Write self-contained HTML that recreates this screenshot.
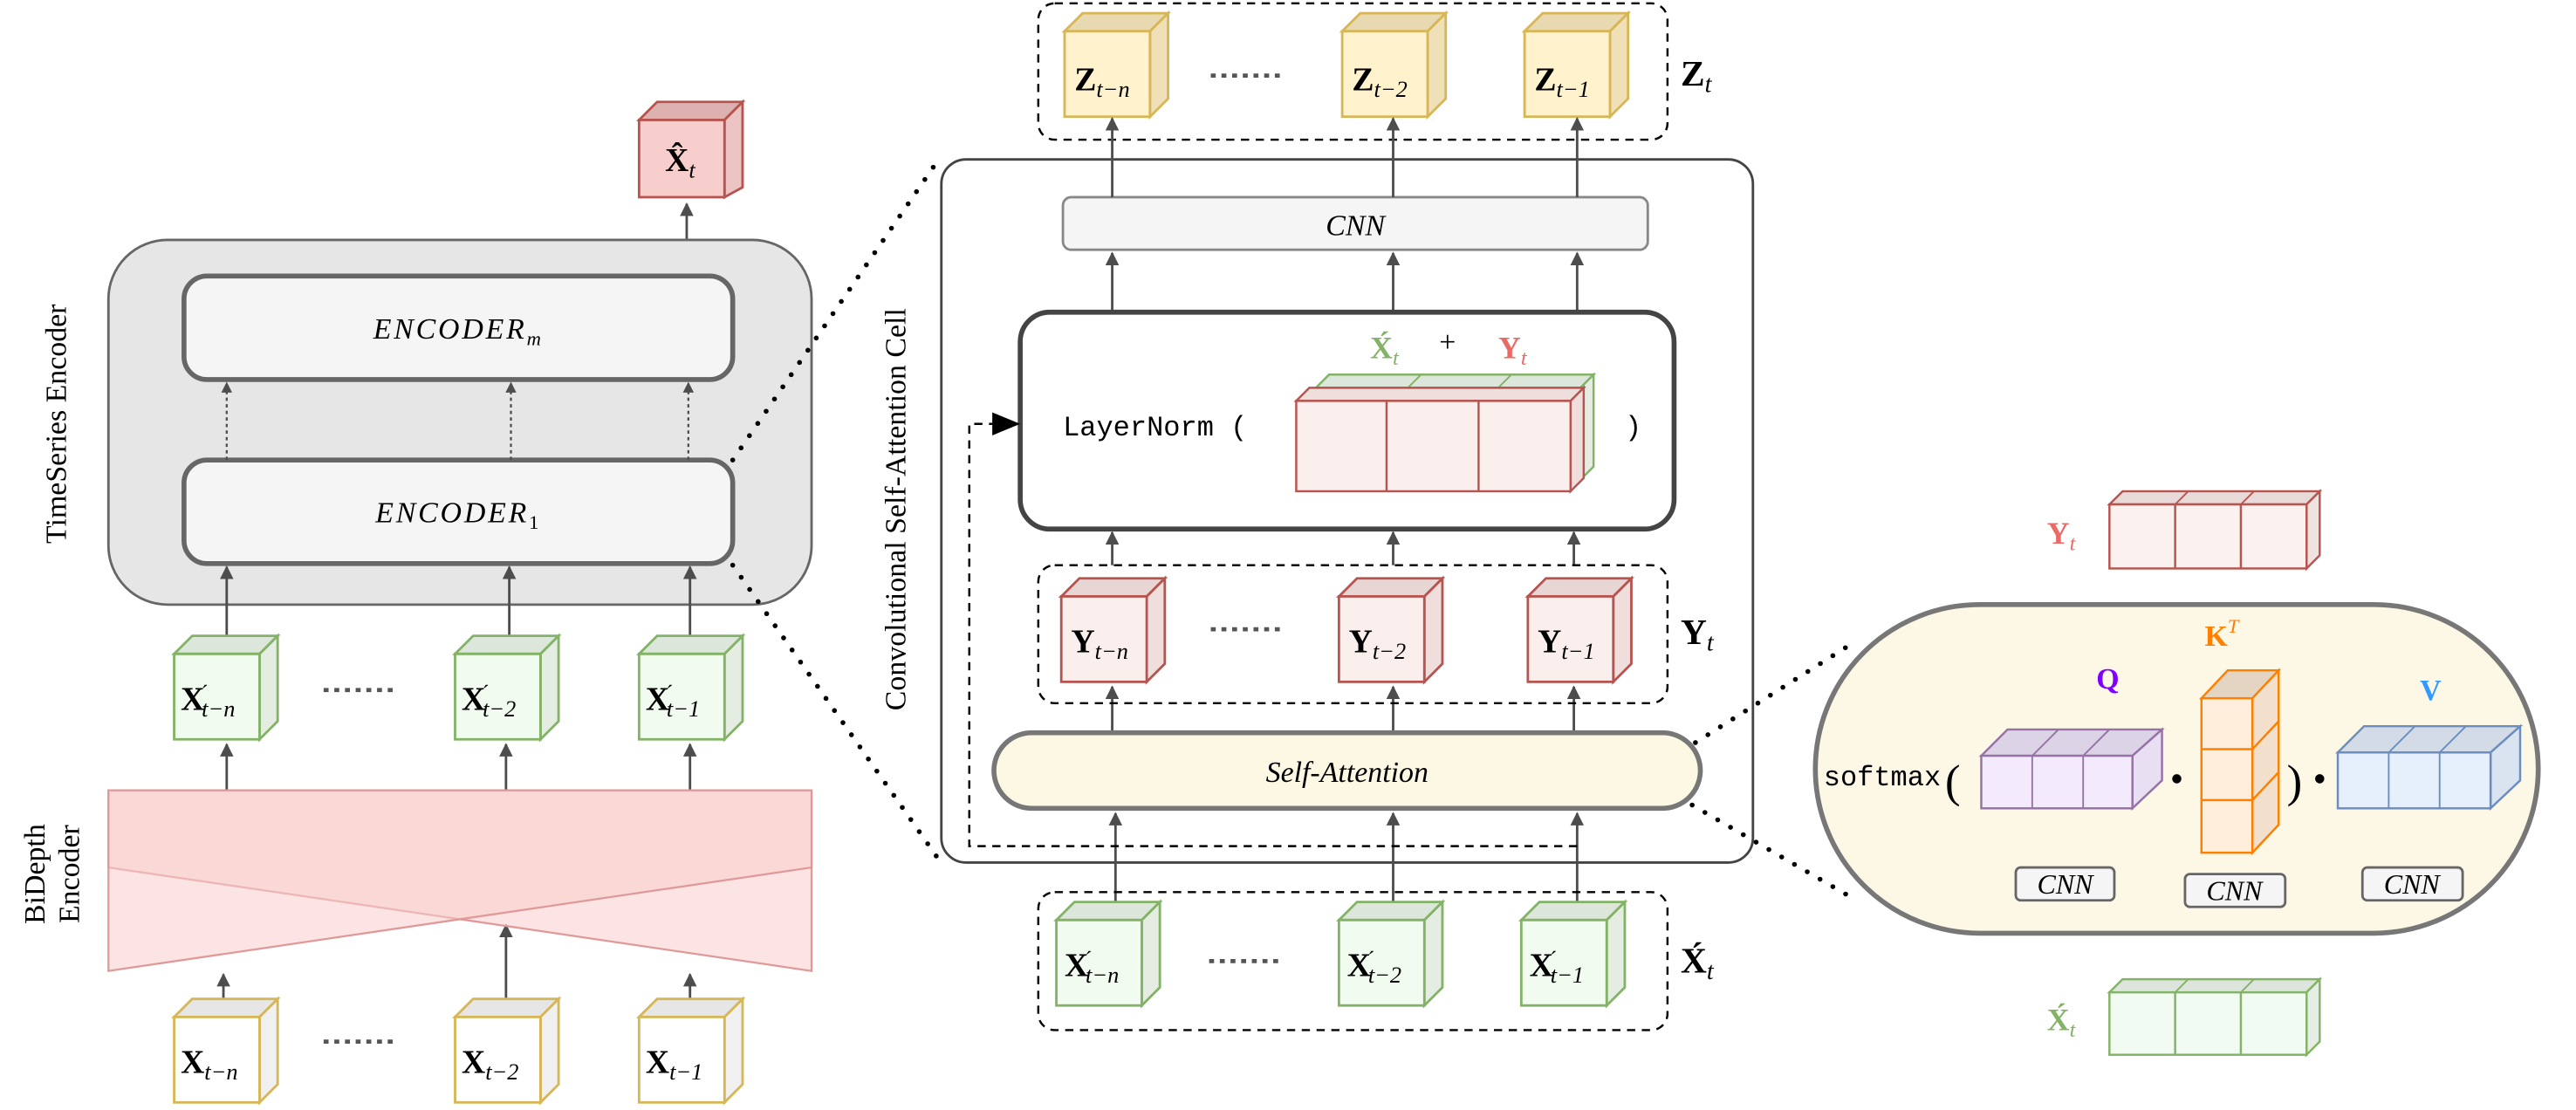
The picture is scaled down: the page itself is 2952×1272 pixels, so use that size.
<!DOCTYPE html>
<html><head><meta charset="utf-8"><style>
html,body{margin:0;padding:0;background:#fff;width:2952px;height:1272px;overflow:hidden}
svg{display:block}
text{font-family:"Liberation Serif",serif}
text.m{font-family:"Liberation Mono",monospace}
.b{font-weight:bold}
.i{font-style:italic}
</style></head><body>
<svg width="2952" height="1272" viewBox="0 0 1568 675.6" xmlns="http://www.w3.org/2000/svg" font-family="Liberation Serif, serif">
<defs>
<marker id="ah" viewBox="0 0 10 10" refX="9" refY="5" markerWidth="5.5" markerHeight="5.5" orient="auto"><path d="M0,0 L10,5 L0,10 z" fill="#4d4d4d"/></marker>
<symbol id="cg" overflow="visible"><polygon points="0,11 11,0 63,0 52,11" fill="#dde6da" stroke="#82b366" stroke-width="1.5"/><polygon points="52,11 63,0 63,52 52,63" fill="#e5ede3" stroke="#82b366" stroke-width="1.5"/><rect x="0" y="11" width="52" height="52" fill="#f2fbf0" stroke="#82b366" stroke-width="1.5"/></symbol>
<symbol id="cy" overflow="visible"><polygon points="0,11 11,0 63,0 52,11" fill="#e6e6e6" stroke="#d6b656" stroke-width="1.5"/><polygon points="52,11 63,0 63,52 52,63" fill="#f0f0f0" stroke="#d6b656" stroke-width="1.5"/><rect x="0" y="11" width="52" height="52" fill="#fff" stroke="#d6b656" stroke-width="1.5"/></symbol>
<symbol id="cz" overflow="visible"><polygon points="0,11 11,0 63,0 52,11" fill="#e9d9b0" stroke="#d6b656" stroke-width="1.5"/><polygon points="52,11 63,0 63,52 52,63" fill="#f0e0b8" stroke="#d6b656" stroke-width="1.5"/><rect x="0" y="11" width="52" height="52" fill="#fff2cc" stroke="#d6b656" stroke-width="1.5"/></symbol>
<symbol id="cr" overflow="visible"><polygon points="0,11 11,0 63,0 52,11" fill="#e8d6d5" stroke="#b85450" stroke-width="1.5"/><polygon points="52,11 63,0 63,52 52,63" fill="#efdedc" stroke="#b85450" stroke-width="1.5"/><rect x="0" y="11" width="52" height="52" fill="#fbefee" stroke="#b85450" stroke-width="1.5"/></symbol>
<symbol id="ch" overflow="visible"><polygon points="0,11 11,0 63,0 52,11" fill="#dcb1b0" stroke="#b85450" stroke-width="1.5"/><polygon points="52,11 63,0 63,52 52,58" fill="#ecc4c3" stroke="#b85450" stroke-width="1.5"/><rect x="0" y="11" width="52" height="47" fill="#f8cecc" stroke="#b85450" stroke-width="1.5"/></symbol>
</defs>

<!-- ========== LEFT ========== -->
<use href="#ch" x="389" y="62"/>
<text x="414" y="104" font-size="20" text-anchor="middle"><tspan class="b">X̂</tspan><tspan class="i" font-size="14" dy="4">t</tspan></text>
<line x1="418" y1="168" x2="418" y2="124" stroke="#4d4d4d" stroke-width="1.5" marker-end="url(#ah)"/>

<rect x="66" y="146" width="428" height="222" rx="36" fill="#e6e6e6" stroke="#666" stroke-width="1.5"/>
<rect x="112" y="168" width="334" height="63" rx="14" fill="#f5f5f5" stroke="#666" stroke-width="3"/>
<text x="279" y="206" font-size="18" class="i" text-anchor="middle" letter-spacing="1.5">ENCODER<tspan font-size="12" dy="4">m</tspan></text>
<rect x="112" y="280" width="334" height="63" rx="14" fill="#f5f5f5" stroke="#666" stroke-width="3"/>
<text x="279" y="318" font-size="18" class="i" text-anchor="middle" letter-spacing="1.5">ENCODER<tspan font-size="12" dy="4" font-style="normal">1</tspan></text>
<g stroke="#4d4d4d" stroke-width="1.2" stroke-dasharray="2 2" marker-end="url(#ah)">
<line x1="138" y1="280" x2="138" y2="233"/><line x1="311" y1="280" x2="311" y2="233"/><line x1="419" y1="280" x2="419" y2="233"/></g>
<g stroke="#4d4d4d" stroke-width="1.5" marker-end="url(#ah)">
<line x1="138" y1="396" x2="138" y2="345"/><line x1="310" y1="396" x2="310" y2="345"/><line x1="420" y1="396" x2="420" y2="345"/>
<line x1="138" y1="481" x2="138" y2="453"/><line x1="308" y1="481" x2="308" y2="453"/><line x1="420" y1="481" x2="420" y2="453"/>
<line x1="136" y1="608" x2="136" y2="593"/><line x1="308" y1="608" x2="308" y2="563"/><line x1="420" y1="608" x2="420" y2="593"/></g>
<text x="40" y="258" font-size="18" text-anchor="middle" transform="rotate(-90 40 258)">TimeSeries Encoder</text>

<use href="#cg" x="106" y="387"/><use href="#cg" x="277" y="387"/><use href="#cg" x="389" y="387"/>
<g font-size="20">
<text x="110" y="432"><tspan class="b">X</tspan><tspan font-size="13" dx="-2" dy="-6">´</tspan><tspan class="i" font-size="14" dx="-4" dy="10">t−n</tspan></text>
<text x="281" y="432"><tspan class="b">X</tspan><tspan font-size="13" dx="-2" dy="-6">´</tspan><tspan class="i" font-size="14" dx="-4" dy="10">t−2</tspan></text>
<text x="393" y="432"><tspan class="b">X</tspan><tspan font-size="13" dx="-2" dy="-6">´</tspan><tspan class="i" font-size="14" dx="-4" dy="10">t−1</tspan></text>
</g>
<line x1="197" y1="420" x2="241" y2="420" stroke="#555" stroke-width="2.5" stroke-dasharray="3 3.5"/>

<polygon points="66,481 494,481 494,591 66,528" fill="#f8cecc" fill-opacity="0.55" stroke="#e09999" stroke-width="1.2"/>
<polygon points="66,481 494,481 494,528 66,591" fill="#f8cecc" fill-opacity="0.55" stroke="#e09999" stroke-width="1.2"/>
<text x="27" y="532" font-size="18" text-anchor="middle" transform="rotate(-90 27 532)">BiDepth</text>
<text x="48" y="532" font-size="18" text-anchor="middle" transform="rotate(-90 48 532)">Encoder</text>

<use href="#cy" x="106" y="608"/><use href="#cy" x="277" y="608"/><use href="#cy" x="389" y="608"/>
<g font-size="20">
<text x="110" y="653"><tspan class="b">X</tspan><tspan class="i" font-size="14" dy="4">t−n</tspan></text>
<text x="281" y="653"><tspan class="b">X</tspan><tspan class="i" font-size="14" dy="4">t−2</tspan></text>
<text x="393" y="653"><tspan class="b">X</tspan><tspan class="i" font-size="14" dy="4">t−1</tspan></text>
</g>
<line x1="197" y1="634" x2="241" y2="634" stroke="#555" stroke-width="2.5" stroke-dasharray="3 3.5"/>

<!-- dotted connectors -->
<g stroke="#000" stroke-width="3" stroke-linecap="round" stroke-dasharray="0 9" fill="none">
<line x1="446" y1="280" x2="572" y2="96"/><line x1="446" y1="344" x2="572" y2="524"/>
<line x1="1032" y1="452" x2="1130" y2="390"/><line x1="1030" y1="490" x2="1130" y2="548"/></g>

<!-- ========== MIDDLE ========== -->
<rect x="632" y="2" width="383" height="83" rx="10" fill="none" stroke="#000" stroke-width="1.3" stroke-dasharray="5 4"/>
<use href="#cz" x="648" y="8"/><use href="#cz" x="817" y="8"/><use href="#cz" x="928" y="8"/>
<g font-size="20">
<text x="654" y="55"><tspan class="b">Z</tspan><tspan class="i" font-size="14" dy="4">t−n</tspan></text>
<text x="823" y="55"><tspan class="b">Z</tspan><tspan class="i" font-size="14" dy="4">t−2</tspan></text>
<text x="934" y="55"><tspan class="b">Z</tspan><tspan class="i" font-size="14" dy="4">t−1</tspan></text>
</g>
<line x1="737" y1="46" x2="781" y2="46" stroke="#555" stroke-width="2.5" stroke-dasharray="3 3.5"/>
<text x="1023" y="52" font-size="22"><tspan class="b">Z</tspan><tspan class="i" font-size="15" dy="4">t</tspan></text>

<rect x="573" y="97" width="494" height="428" rx="15" fill="none" stroke="#444" stroke-width="1.5"/>
<text x="551" y="310" font-size="18" text-anchor="middle" transform="rotate(-90 551 310)">Convolutional Self-Attention Cell</text>

<rect x="647" y="120" width="356" height="32" rx="5" fill="#f5f5f5" stroke="#888" stroke-width="1.5"/>
<text x="825" y="143" font-size="18" class="i" text-anchor="middle">CNN</text>
<g stroke="#4d4d4d" stroke-width="1.5" marker-end="url(#ah)">
<line x1="677" y1="120" x2="677" y2="72"/><line x1="848" y1="120" x2="848" y2="72"/><line x1="960" y1="120" x2="960" y2="72"/>
<line x1="677" y1="190" x2="677" y2="154"/><line x1="848" y1="190" x2="848" y2="154"/><line x1="960" y1="190" x2="960" y2="154"/>
<line x1="677" y1="344" x2="677" y2="324"/><line x1="848" y1="344" x2="848" y2="324"/><line x1="958" y1="344" x2="958" y2="324"/>
<line x1="677" y1="446" x2="677" y2="418"/><line x1="848" y1="446" x2="848" y2="418"/><line x1="958" y1="446" x2="958" y2="418"/>
<line x1="679" y1="550" x2="679" y2="495"/><line x1="848" y1="550" x2="848" y2="495"/><line x1="960" y1="550" x2="960" y2="495"/></g>

<rect x="621" y="190" width="398" height="132" rx="18" fill="#fff" stroke="#444" stroke-width="3"/>
<text x="647" y="265" font-size="17" class="m" font-family="Liberation Mono, monospace">LayerNorm (</text>
<text x="989" y="265" font-size="17" class="m" font-family="Liberation Mono, monospace">)</text>
<text x="834" y="218" font-size="19" fill="#82b366" class="b">X́<tspan class="i" font-size="13" dy="4" font-weight="normal">t</tspan></text>
<text x="876" y="214" font-size="18">+</text>
<text x="912" y="218" font-size="19" fill="#ea6b66" class="b">Y<tspan class="i" font-size="13" dy="4" font-weight="normal">t</tspan></text>
<polygon points="801,236 809,228 970,228 962,236" fill="#dde6da" stroke="#82b366" stroke-width="1.3"/>
<polygon points="962,236 970,228 970,284 962,292" fill="#e5ede3" stroke="#82b366" stroke-width="1.3"/>
<line x1="857" y1="236" x2="865" y2="228" stroke="#82b366"/><line x1="912" y1="236" x2="920" y2="228" stroke="#82b366"/>
<polygon points="789,244 797,236 964,236 956,244" fill="#eedfdd" stroke="#b85450" stroke-width="1.3"/>
<polygon points="956,244 964,236 964,291 956,299" fill="#efdedc" stroke="#b85450" stroke-width="1.3"/>
<rect x="789" y="244" width="167" height="55" fill="#fbefee" stroke="#b85450" stroke-width="1.3"/>
<line x1="844" y1="244" x2="844" y2="299" stroke="#b85450" stroke-width="1.3"/><line x1="900" y1="244" x2="900" y2="299" stroke="#b85450" stroke-width="1.3"/>

<rect x="632" y="344" width="383" height="84" rx="10" fill="none" stroke="#000" stroke-width="1.3" stroke-dasharray="5 4"/>
<use href="#cr" x="646" y="352"/><use href="#cr" x="815" y="352"/><use href="#cr" x="930" y="352"/>
<g font-size="20">
<text x="652" y="397"><tspan class="b">Y</tspan><tspan class="i" font-size="14" dy="4">t−n</tspan></text>
<text x="821" y="397"><tspan class="b">Y</tspan><tspan class="i" font-size="14" dy="4">t−2</tspan></text>
<text x="936" y="397"><tspan class="b">Y</tspan><tspan class="i" font-size="14" dy="4">t−1</tspan></text>
</g>
<line x1="737" y1="383" x2="781" y2="383" stroke="#555" stroke-width="2.5" stroke-dasharray="3 3.5"/>
<text x="1023" y="392" font-size="22"><tspan class="b">Y</tspan><tspan class="i" font-size="15" dy="4">t</tspan></text>

<rect x="605" y="446" width="430" height="46" rx="23" fill="#fdf8e4" stroke="#777" stroke-width="3"/>
<text x="820" y="476" font-size="18" class="i" text-anchor="middle">Self-Attention</text>

<path d="M960,515 L590,515 L590,258 L610,258" fill="none" stroke="#000" stroke-width="1.3" stroke-dasharray="5 4"/>
<polygon points="604,251 621,258 604,265" fill="#000"/>

<rect x="632" y="543" width="383" height="84" rx="10" fill="none" stroke="#000" stroke-width="1.3" stroke-dasharray="5 4"/>
<use href="#cg" x="643" y="549"/><use href="#cg" x="815" y="549"/><use href="#cg" x="926" y="549"/>
<g font-size="20">
<text x="648" y="594"><tspan class="b">X</tspan><tspan font-size="13" dx="-2" dy="-6">´</tspan><tspan class="i" font-size="14" dx="-4" dy="10">t−n</tspan></text>
<text x="820" y="594"><tspan class="b">X</tspan><tspan font-size="13" dx="-2" dy="-6">´</tspan><tspan class="i" font-size="14" dx="-4" dy="10">t−2</tspan></text>
<text x="931" y="594"><tspan class="b">X</tspan><tspan font-size="13" dx="-2" dy="-6">´</tspan><tspan class="i" font-size="14" dx="-4" dy="10">t−1</tspan></text>
</g>
<line x1="736" y1="585" x2="780" y2="585" stroke="#555" stroke-width="2.5" stroke-dasharray="3 3.5"/>
<text x="1023" y="592" font-size="22"><tspan class="b">X́</tspan><tspan class="i" font-size="15" dy="4">t</tspan></text>

<!-- ========== RIGHT ========== -->
<text x="1246" y="331" font-size="19" fill="#ea6b66" class="b">Y<tspan class="i" font-size="13" dy="4" font-weight="normal">t</tspan></text>
<polygon points="1284,307 1292,299 1412,299 1404,307" fill="#e8dad8" stroke="#b85450" stroke-width="1.3"/>
<polygon points="1404,307 1412,299 1412,338 1404,346" fill="#efe3e1" stroke="#b85450" stroke-width="1.3"/>
<rect x="1284" y="307" width="120" height="39" fill="#fbf1ef" stroke="#b85450" stroke-width="1.3"/>
<line x1="1324" y1="307" x2="1324" y2="346" stroke="#b85450" stroke-width="1.3"/><line x1="1364" y1="307" x2="1364" y2="346" stroke="#b85450" stroke-width="1.3"/>
<line x1="1324" y1="307" x2="1332" y2="299" stroke="#b85450"/><line x1="1364" y1="307" x2="1372" y2="299" stroke="#b85450"/>

<rect x="1105" y="368" width="440" height="200" rx="100" fill="#fdf8e6" stroke="#777" stroke-width="3"/>
<text x="1110" y="478" font-size="17" class="m" font-family="Liberation Mono, monospace">softmax</text>
<text x="1184" y="485" font-size="28">(</text>
<!-- Q -->
<text x="1276" y="419" font-size="18" fill="#7f00ff" class="b">Q</text>
<polygon points="1206,460 1222,444 1316,444 1298,460" fill="#ddd3e6" stroke="#9673a6" stroke-width="1.3"/>
<polygon points="1298,460 1316,444 1316,475 1298,492" fill="#e8dff2" stroke="#9673a6" stroke-width="1.3"/>
<rect x="1206" y="460" width="92" height="32" fill="#f3ebfc" stroke="#9673a6" stroke-width="1.3"/>
<line x1="1237" y1="460" x2="1237" y2="492" stroke="#9673a6"/><line x1="1268" y1="460" x2="1268" y2="492" stroke="#9673a6"/>
<line x1="1237" y1="460" x2="1253" y2="444" stroke="#9673a6"/><line x1="1268" y1="460" x2="1284" y2="444" stroke="#9673a6"/>
<circle cx="1325" cy="474" r="2.8" fill="#000"/>
<!-- K^T -->
<text x="1342" y="393" font-size="18" fill="#ff8000" class="b">K<tspan font-size="12" dy="-8" font-weight="normal" class="i">T</tspan></text>
<polygon points="1340,425 1356,408 1387,408 1371,425" fill="#e4d5c2" stroke="#ff8000" stroke-width="1.3"/>
<polygon points="1371,425 1387,408 1387,502 1371,519" fill="#f2e0cc" stroke="#ff8000" stroke-width="1.3"/>
<rect x="1340" y="425" width="31" height="94" fill="#feeedb" stroke="#ff8000" stroke-width="1.3"/>
<line x1="1340" y1="456" x2="1371" y2="456" stroke="#ff8000" stroke-width="1.3"/><line x1="1340" y1="487" x2="1371" y2="487" stroke="#ff8000" stroke-width="1.3"/>
<line x1="1371" y1="456" x2="1387" y2="439" stroke="#ff8000" stroke-width="1.3"/><line x1="1371" y1="487" x2="1387" y2="470" stroke="#ff8000" stroke-width="1.3"/>
<text x="1392" y="485" font-size="28">)</text>
<circle cx="1412" cy="474" r="2.8" fill="#000"/>
<!-- V -->
<text x="1473" y="426" font-size="18" fill="#3399ff" class="b">V</text>
<polygon points="1423,458 1439,442 1534,442 1516,458" fill="#d3dbe6" stroke="#6c8ebf" stroke-width="1.3"/>
<polygon points="1516,458 1534,442 1534,475 1516,492" fill="#dae4f0" stroke="#6c8ebf" stroke-width="1.3"/>
<rect x="1423" y="458" width="93" height="34" fill="#e6f0fc" stroke="#6c8ebf" stroke-width="1.3"/>
<line x1="1454" y1="458" x2="1454" y2="492" stroke="#6c8ebf"/><line x1="1485" y1="458" x2="1485" y2="492" stroke="#6c8ebf"/>
<line x1="1454" y1="458" x2="1470" y2="442" stroke="#6c8ebf"/><line x1="1485" y1="458" x2="1501" y2="442" stroke="#6c8ebf"/>
<g fill="#f5f5f5" stroke="#666" stroke-width="1.5">
<rect x="1227" y="528" width="60" height="20" rx="3"/><rect x="1330" y="532" width="61" height="20" rx="3"/><rect x="1438" y="528" width="61" height="20" rx="3"/></g>
<text x="1257" y="544" font-size="17" class="i" text-anchor="middle">CNN</text>
<text x="1360" y="548" font-size="17" class="i" text-anchor="middle">CNN</text>
<text x="1468" y="544" font-size="17" class="i" text-anchor="middle">CNN</text>

<text x="1246" y="627" font-size="19" fill="#82b366" class="b">X́<tspan class="i" font-size="13" dy="4" font-weight="normal">t</tspan></text>
<polygon points="1284,604 1292,596 1412,596 1404,604" fill="#dde4db" stroke="#82b366" stroke-width="1.3"/>
<polygon points="1404,604 1412,596 1412,634 1404,642" fill="#e6ede4" stroke="#82b366" stroke-width="1.3"/>
<rect x="1284" y="604" width="120" height="38" fill="#f2fbf2" stroke="#82b366" stroke-width="1.3"/>
<line x1="1324" y1="604" x2="1324" y2="642" stroke="#82b366" stroke-width="1.3"/><line x1="1364" y1="604" x2="1364" y2="642" stroke="#82b366" stroke-width="1.3"/>
<line x1="1324" y1="604" x2="1332" y2="596" stroke="#82b366"/><line x1="1364" y1="604" x2="1372" y2="596" stroke="#82b366"/>
</svg>
</body></html>
